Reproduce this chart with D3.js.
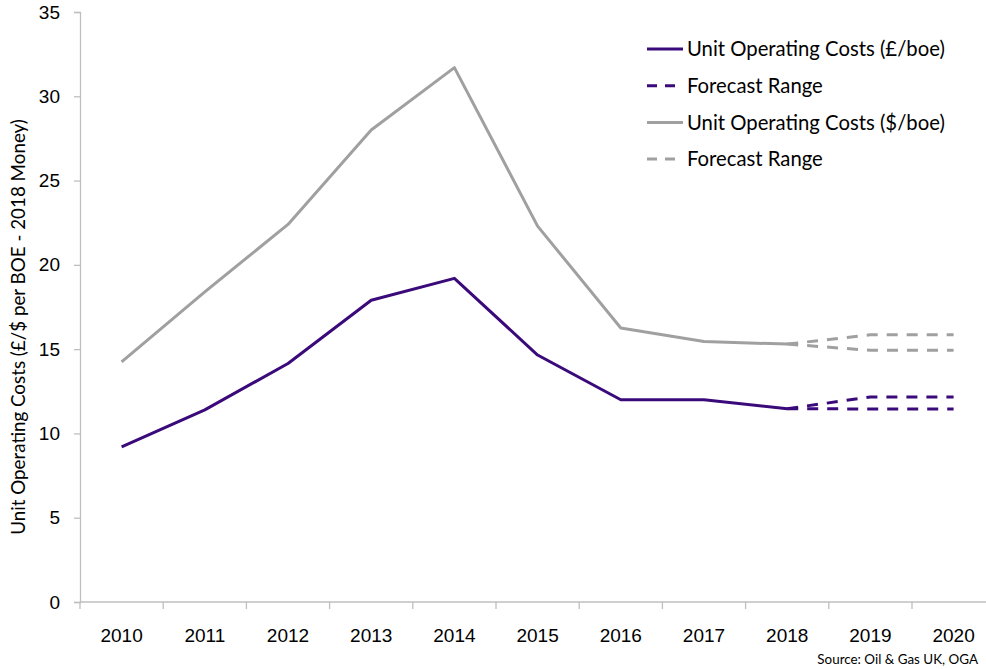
<!DOCTYPE html>
<html>
<head>
<meta charset="utf-8">
<script src="https://cdn.jsdelivr.net/npm/d3@7"></script>
<style>
  body { margin: 0; background: #fff; }
  svg { font-family: Lato, "Open Sans", sans-serif; }
  .axis path, .axis line { stroke: #bfbfbf; stroke-width: 1.3; }
  .axis text { fill: #000; font-size: 19px; }
</style>
</head>
<body>
<script>
// chart data
var years = ["2010","2011","2012","2013","2014","2015","2016","2017","2018","2019","2020"];
var poundCosts = [9.2, 11.4, 14.15, 17.9, 19.2, 14.65, 12.0, 12.0, 11.47];
var dollarCosts = [14.25, 18.4, 22.4, 28.0, 31.7, 22.3, 16.25, 15.45, 15.3];
var forecastYears = ["2018","2019","2020"];
var poundHigh = [11.47, 12.16, 12.16];
var poundLow = [11.47, 11.45, 11.45];
var dollarHigh = [15.3, 15.85, 15.85];
var dollarLow = [15.3, 14.93, 14.93];
var yTicks = [0, 5, 10, 15, 20, 25, 30, 35];
var legendItems = [
  {label: "Unit Operating Costs (£/boe)", color: "#3b0a7a", dash: null},
  {label: "Forecast Range", color: "#3b0a7a", dash: "9,8"},
  {label: "Unit Operating Costs ($/boe)", color: "#a0a0a0", dash: null},
  {label: "Forecast Range", color: "#a0a0a0", dash: "9,8"}
];

var width = 986, height = 669;

var svg = d3.select("body").append("svg")
    .attr("width", width)
    .attr("height", height);

//scales - band runs a little past the right edge like the original
var x = d3.scaleBand()
    .domain(years)
    .range([80, 80 + 83.2 * years.length]);

var y = d3.scaleLinear()
    .domain([0, 35])
    .range([602, 12]);

function cx(yr){ return x(yr) + x.bandwidth() / 2; }

//y axis
var yAxis = svg.append("g")
    .attr("class", "axis")
    .attr("transform", "translate(80,0)")
    .call(d3.axisLeft(y).tickValues(yTicks).tickSize(6).tickPadding(14));

//x axis
var xAxis = svg.append("g")
    .attr("class", "axis")
    .attr("transform", "translate(0,602)")
    .call(d3.axisBottom(x).tickSize(0).tickPadding(27));
xAxis.select(".domain").attr("d", "M80,0H" + width);

//x tick marks between the categories
xAxis.selectAll(".sep")
    .data(years)
    .enter()
    .append("line")
    .attr("class", "sep")
    .attr("x1", function(d){ return x(d); })
    .attr("x2", function(d){ return x(d); })
    .attr("y1", 0)
    .attr("y2", 7);

//y axis title
svg.append("text")
    .attr("transform", "translate(25," + (y(17.5) + 20) + ") rotate(-90)")
    .attr("text-anchor", "middle")
    .style("font-size", "18.8px")
    .text("Unit Operating Costs (£/$ per BOE - 2018 Money)");

var line = d3.line()
    .x(function(d){ return cx(d[0]); })
    .y(function(d){ return y(d[1]); });

function pair(yrs, vals){
    return vals.map(function(v, i){ return [yrs[i], v]; });
}

var series = [
    {data: pair(years, dollarCosts), color: "#a0a0a0", dash: null},
    {data: pair(forecastYears, dollarHigh), color: "#a0a0a0", dash: "11,9"},
    {data: pair(forecastYears, dollarLow), color: "#a0a0a0", dash: "11,9"},
    {data: pair(years, poundCosts), color: "#3b0a7a", dash: null},
    {data: pair(forecastYears, poundHigh), color: "#3b0a7a", dash: "11,9"},
    {data: pair(forecastYears, poundLow), color: "#3b0a7a", dash: "11,9"}
];

svg.selectAll(".series")
    .data(series)
    .enter()
    .append("path")
    .attr("class", "series")
    .attr("fill", "none")
    .attr("stroke", function(d){ return d.color; })
    .attr("stroke-width", 3)
    .attr("stroke-linejoin", "round")
    .attr("stroke-dasharray", function(d){ return d.dash; })
    .attr("d", function(d){ return line(d.data); });

//legend
var legend = svg.selectAll(".legend")
    .data(legendItems)
    .enter()
    .append("g")
    .attr("class", "legend")
    .attr("transform", function(d, i){ return "translate(647," + (49 + i * 36.7) + ")"; });

legend.append("line")
    .attr("x1", 0).attr("x2", 36)
    .attr("stroke", function(d){ return d.color; })
    .attr("stroke-width", 3)
    .attr("stroke-dasharray", function(d){ return d.dash ? "10,8" : null; });

legend.append("text")
    .attr("x", 40)
    .attr("dy", "0.36em")
    .style("font-size", "20.3px")
    .text(function(d){ return d.label; });

//source note
svg.append("text")
    .attr("x", 978)
    .attr("y", 664)
    .attr("text-anchor", "end")
    .style("font-size", "13.4px")
    .text("Source: Oil & Gas UK, OGA");
</script>
</body>
</html>
